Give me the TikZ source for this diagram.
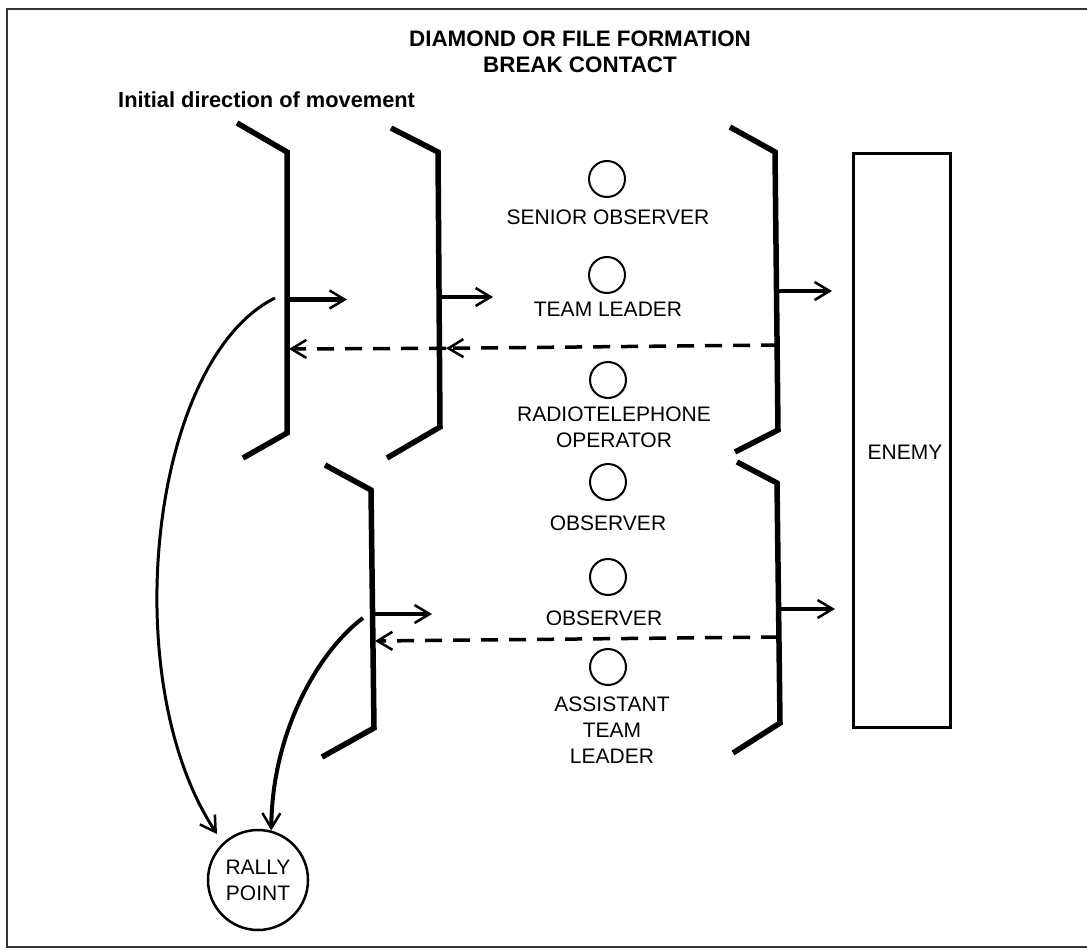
\documentclass[tikz,border=0pt]{standalone}
\usepackage{fontspec}
\setmainfont{Liberation Sans}
\usetikzlibrary{arrows.meta}
\begin{document}
\begin{tikzpicture}[x=1pt,y=-1pt,
  brk/.style={line width=5.5pt, line join=miter},
  mv/.style={line width=4.5pt, -{Straight Barb[length=15pt,width=18pt,line width=2.5pt]}},
  back/.style={line width=3.5pt, dash pattern=on 17pt off 11pt, -{Straight Barb[length=15pt,width=18pt,line width=2.5pt]}},
  member/.style={circle, draw, line width=2pt, minimum size=36pt, inner sep=0pt},
  lbl/.style={inner sep=0pt, align=center, font=\fontsize{21}{26}\selectfont},
  ttl/.style={inner sep=0pt, align=center, font=\bfseries\fontsize{22.4}{27}\selectfont},
  torally/.style={-{Straight Barb[length=15pt,width=18pt,line width=2.5pt]}},
]
\useasboundingbox (0,0) rectangle (1087,950);
\fill[white] (0,0) rectangle (1087,950);
% frame
\draw[line width=2pt, black!80] (7,9) rectangle (1100,947);

% titles
\node[ttl] (t1) at (580,39) {DIAMOND OR FILE FORMATION};
\node[ttl] (t2) at (580,65) {BREAK CONTACT};
\node[ttl, font=\bfseries\fontsize{21.8}{26}\selectfont, anchor=west] (t3) at (118,100) {Initial direction of movement};

% brackets
\draw[brk] (237,123) -- (287,152) -- (287,433) -- (243,458);
\draw[brk] (391,128) -- (438,152) -- (440,427) -- (387,458);
\draw[brk] (730,127) -- (775,152) -- (778,430) -- (735,452);
\draw[brk] (325,465) -- (371,490) -- (374,728) -- (322,757);
\draw[brk] (737,462) -- (777,483) -- (780,723) -- (733,753);

% enemy
\node[draw, line width=3pt, minimum width=97pt, minimum height=574pt, inner sep=0pt] (enemy) at (901.5,440) {};
\node[lbl] (enemylbl) at (905,452) {ENEMY};

% team members
\node[member] (c1) at (607,179) {};
\node[lbl] (l1) at (608,217) {SENIOR OBSERVER};
\node[member] (c2) at (607,275) {};
\node[lbl] (l2) at (608,309) {TEAM LEADER};
\node[member] (c3) at (608,380) {};
\node[lbl] (l3) at (614,427.5) {RADIOTELEPHONE\\OPERATOR};
\node[member] (c4) at (608,482) {};
\node[lbl] (l4) at (608,523) {OBSERVER};
\node[member] (c5) at (608,577) {};
\node[lbl] (l5) at (604,618) {OBSERVER};
\node[member] (c6) at (608,667) {};
\node[lbl] (l6) at (612,730.5) {ASSISTANT\\TEAM\\LEADER};

% rally point
\node[circle, draw, line width=2.5pt, minimum size=100pt, inner sep=0pt, lbl] (rally) at (258,880) {RALLY\\POINT};

% coordinates on brackets
\coordinate (a1s) at (287,299.5); \coordinate (a1e) at (347,299.5);
\coordinate (a2s) at (438,297);   \coordinate (a2e) at (493,297);
\coordinate (a3s) at (778,291);   \coordinate (a3e) at (832,291);
\coordinate (a4s) at (373,614);   \coordinate (a4e) at (432,614);
\coordinate (a5s) at (780,609);   \coordinate (a5e) at (835,609);

\coordinate (d1s) at (778,345); \coordinate (d1m) at (446,348.3); \coordinate (d1e) at (289,349);
\coordinate (d2s) at (778,637); \coordinate (d2e) at (375,641);

\coordinate (r1s) at (275,298); \coordinate (r1e) at (217,834);
\coordinate (r2s) at (363,618); \coordinate (r2e) at (rally.75);

% movement arrows
\draw[mv] (a1s) -- (a1e);
\draw[mv] (a2s) -- (a2e);
\draw[mv] (a3s) -- (a3e);
\draw[mv] (a4s) -- (a4e);
\draw[mv] (a5s) -- (a5e);

% break-contact dashed arrows
\draw[back] (d1s) -- (d1m);
\draw[back] (d1m) -- (d1e);
\draw[back] (d2s) -- (d2e);

% to rally point
\draw[line width=3pt, torally] (r1s) .. controls (150,360) and (115,680) .. (r1e);
\draw[line width=4pt, torally] (r2s) .. controls (320,650) and (272,730) .. (r2e);
\end{tikzpicture}
\end{document}
